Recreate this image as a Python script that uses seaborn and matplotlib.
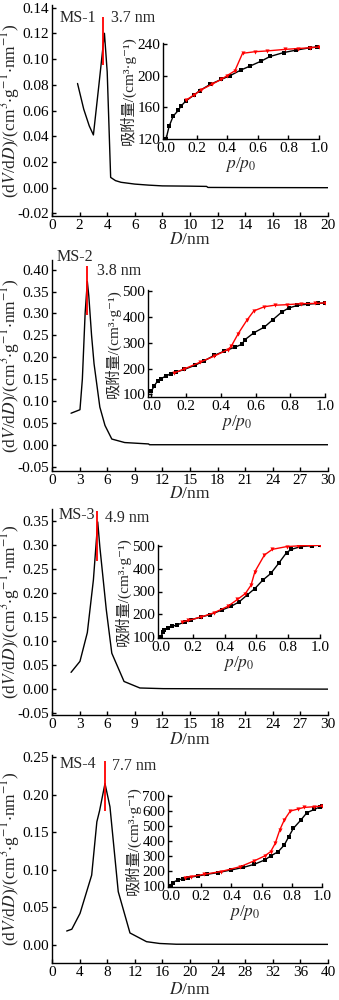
import numpy as np
import pandas as pd
import matplotlib
matplotlib.use("Agg")
import matplotlib.pyplot as plt
import seaborn as sns

sns.set_theme(style="ticks")
plt.rcParams["font.family"] = ["Liberation Serif", "Noto Sans CJK SC", "DejaVu Serif"]
plt.rcParams["mathtext.fontset"] = "stix"
plt.rcParams["axes.linewidth"] = 1.0

W, H = 339, 1000

# ---- pore size distributions (dV/dD vs D) ----
d1 = [1.85, 2.3, 2.7, 3.0, 3.4, 3.8, 4.0, 4.25, 4.6, 5.0, 6.0, 7.0, 8.0, 10.0, 11.2, 11.3, 14.0, 20.0]
v1 = [0.081, 0.061, 0.048, 0.041, 0.080, 0.120, 0.090, 0.008, 0.0055, 0.0042, 0.0028, 0.0020, 0.0014,
      0.0012, 0.0010, 0.0002, 0.0001, 0.0]

d2 = [2.07, 3.04, 3.3, 3.6, 3.84, 4.0, 4.3, 4.57, 5.2, 5.76, 6.5, 7.9, 10.5, 10.6, 30.0]
v2 = [0.072, 0.080, 0.150, 0.300, 0.373, 0.340, 0.250, 0.185, 0.086, 0.044, 0.013, 0.005, 0.0018, 0.0, 0.0]

d3 = [2.07, 3.04, 3.84, 4.5, 4.97, 5.2, 5.9, 6.5, 7.83, 9.55, 12.1, 30.0]
v3 = [0.034, 0.057, 0.117, 0.227, 0.348, 0.296, 0.165, 0.074, 0.015, 0.0014, 0.0, -0.001]

d4 = [2.13, 2.87, 4.06, 5.75, 6.5, 6.9, 7.68, 8.4, 9.6, 11.3, 13.7, 15.6, 18.0, 40.0]
v4 = [0.0186, 0.021, 0.042, 0.093, 0.164, 0.179, 0.215, 0.184, 0.071, 0.016, 0.0044, 0.002, 0.001, 0.0008]

peaks = [3.7, 3.8, 4.9, 7.7]
peak_spans = [(0.095, 0.133), (0.297, 0.408), (0.267, 0.370), (0.178, 0.245)]
names = ["MS-1", "MS-2", "MS-3", "MS-4"]

# ---- N2 isotherms (adsorption / desorption) ----
pa1 = [0.0, 0.02, 0.047, 0.08, 0.10, 0.13, 0.18, 0.22, 0.29, 0.36, 0.42, 0.49, 0.55, 0.62, 0.68, 0.77, 0.85, 0.94, 0.99]
qa1 = [120, 136, 149, 156, 162, 168, 175, 181, 189, 195, 200, 207, 212, 218, 224, 229, 232, 235, 236]
pd1 = [1.0, 0.94, 0.86, 0.78, 0.66, 0.58, 0.50, 0.45, 0.40, 0.36, 0.30, 0.23, 0.18, 0.13]
qd1 = [236, 235, 234, 233, 231, 230, 228, 206, 200, 195, 189, 182, 175, 169]

pa2 = [0.0, 0.015, 0.035, 0.054, 0.083, 0.11, 0.14, 0.19, 0.25, 0.30, 0.36, 0.42, 0.48, 0.52, 0.54, 0.59, 0.65,
       0.70, 0.75, 0.79, 0.84, 0.90, 0.96, 1.0]
qa2 = [113, 132, 152, 161, 171, 180, 186, 197, 213, 229, 251, 268, 283, 294, 313, 339, 361, 390, 419, 435, 445,
       450, 453, 455]
pd2 = [1.0, 0.94, 0.86, 0.78, 0.71, 0.65, 0.59, 0.55, 0.50, 0.46, 0.44, 0.36, 0.28, 0.19, 0.13]
qd2 = [455, 453, 452, 448, 446, 440, 424, 388, 336, 287, 274, 248, 225, 199, 183]

pa3 = [0.0, 0.01, 0.02, 0.04, 0.07, 0.10, 0.15, 0.19, 0.25, 0.31, 0.38, 0.44, 0.49, 0.54, 0.59, 0.64, 0.69,
       0.74, 0.79, 0.82, 0.88, 0.95, 1.0]
qa3 = [100, 122, 132, 141, 147, 154, 166, 176, 188, 199, 218, 235, 254, 284, 313, 350, 379, 424, 471, 485, 497,
       501, 503]
pd3 = [1.0, 0.93, 0.86, 0.79, 0.70, 0.65, 0.59, 0.566, 0.53, 0.48, 0.42, 0.33, 0.25, 0.17, 0.13]
qd3 = [503, 502, 500, 497, 485, 460, 387, 328, 291, 265, 235, 206, 188, 173, 166]

pa4 = [0.0, 0.01, 0.045, 0.077, 0.11, 0.18, 0.24, 0.31, 0.40, 0.48, 0.55, 0.62, 0.66, 0.71, 0.75, 0.78, 0.81,
       0.86, 0.90, 0.95, 0.99, 1.0]
qa4 = [100, 122, 140, 147, 156, 167, 178, 189, 207, 224, 244, 273, 300, 329, 373, 429, 484, 540, 589, 611, 629, 633]
pd4 = [1.0, 0.95, 0.88, 0.84, 0.79, 0.75, 0.72, 0.69, 0.66, 0.62, 0.55, 0.46, 0.33, 0.22, 0.13, 0.09]
qd4 = [633, 629, 624, 613, 600, 540, 473, 384, 329, 300, 267, 229, 196, 178, 162, 156]

psd = [(d1, v1), (d2, v2), (d3, v3), (d4, v4)]
iso = [(pa1, qa1, pd1, qd1), (pa2, qa2, pd2, qd2), (pa3, qa3, pd3, qd3), (pa4, qa4, pd4, qd4)]

# layout in pixels: (left, top, right, bottom)
main_boxes = [(52, 5, 328, 216), (52, 260, 328, 471), (52, 509, 328, 715), (52, 755, 328, 963)]
main_xlim = [(0, 20), (0, 30), (0, 30), (0, 40)]
main_xticks = [np.arange(0, 21, 2), np.arange(0, 31, 3), np.arange(0, 31, 3), np.arange(0, 41, 4)]
main_ylim = [(-0.022, 0.142), (-0.06, 0.422), (-0.055, 0.375), (-0.024, 0.253)]
main_yticks = [np.arange(-0.02, 0.141, 0.02), np.arange(-0.05, 0.401, 0.05), np.arange(-0.05, 0.351, 0.05),
               np.arange(0.0, 0.251, 0.05)]

inset_boxes = [(163, 43, 319, 139), (148, 290, 325, 397), (158, 545, 320, 638), (168, 795, 322, 887)]
inset_ylim = [(120, 241), (90, 505), (96, 504), (93, 707)]
inset_yticks = [[120, 160, 200, 240], [100, 200, 300, 400, 500], [100, 200, 300, 400, 500],
                [100, 200, 300, 400, 500, 600, 700]]

# name label (x, y) and peak label (x, y), pixels
label_pos = [(60, 18, 111, 18), (57, 257, 97, 271), (59, 515, 105, 518), (60, 764, 112, 766)]
xlabel_y = [240, 494, 740, 990]


def rect(l, t, r, b):
    return [l / W, 1 - b / H, (r - l) / W, (b - t) / H]


def style(ax, fs):
    sns.despine(ax=ax)
    ax.tick_params(direction="in", length=3, width=1, labelsize=fs, pad=2, colors="black")
    for s in ("left", "bottom"):
        ax.spines[s].set_color("black")
    ax.grid(False)
    ax.set_facecolor("none")


fig = plt.figure(figsize=(W / 100, H / 100), dpi=100)
fig.patch.set_facecolor("white")

for i in range(4):
    ax = fig.add_axes(rect(*main_boxes[i]))
    d, v = psd[i]
    sns.lineplot(x=d, y=v, ax=ax, color="black", lw=1.0, sort=False, estimator=None)
    ax.vlines(peaks[i], *peak_spans[i], color="red", lw=1.3, zorder=5)
    ax.set_xlim(*main_xlim[i])
    ax.set_ylim(*main_ylim[i])
    ax.set_xticks(main_xticks[i])
    ax.set_xticklabels([str(int(t)) for t in main_xticks[i]])
    ax.set_yticks(main_yticks[i])
    ax.set_yticklabels(["{:.2f}".format(round(t, 2) + 0.0) for t in main_yticks[i]])
    style(ax, 11)
    ax.set_xlabel("")
    ax.set_ylabel("")

    nx, ny, px, py = label_pos[i]
    fig.text(nx / W, 1 - ny / H, names[i], fontsize=11.5, ha="left", va="center")
    fig.text(px / W, 1 - py / H, f"{peaks[i]} nm", fontsize=11.5, ha="left", va="center")
    fig.text(190 / W, 1 - xlabel_y[i] / H, r"$D$/nm", fontsize=12.5, ha="center", va="center")
    cy = (main_boxes[i][1] + main_boxes[i][3]) / 2
    fig.text(10 / W, 1 - cy / H, r"(d$V$/d$D$)/(cm$^3$$\cdot$g$^{-1}$$\cdot$nm$^{-1}$)",
             fontsize=12.5, rotation=90, ha="center", va="center")

    # inset isotherm
    ins = fig.add_axes(rect(*inset_boxes[i]))
    pa, qa, pdz, qdz = iso[i]
    sns.lineplot(x=pa, y=qa, ax=ins, color="black", lw=1.0, marker="s", markersize=3.2,
                 markeredgewidth=0, sort=False, estimator=None)
    sns.lineplot(x=pdz, y=qdz, ax=ins, color="red", lw=1.0, marker="v", markersize=3.0,
                 markeredgewidth=0, sort=False, estimator=None)
    ins.set_xlim(-0.02, 1.0)
    ins.set_ylim(*inset_ylim[i])
    ins.set_xticks([0.0, 0.2, 0.4, 0.6, 0.8, 1.0])
    ins.set_xticklabels(["0.0", "0.2", "0.4", "0.6", "0.8", "1.0"])
    ins.set_yticks(inset_yticks[i])
    style(ins, 11)
    ins.set_xlabel(r"$p$/$p_0$", fontsize=12.5, labelpad=0)
    ins.set_ylabel("吸附量/(cm³·g⁻¹)", fontsize=11, labelpad=1)

fig.savefig("out.png", dpi=100, facecolor="white")
